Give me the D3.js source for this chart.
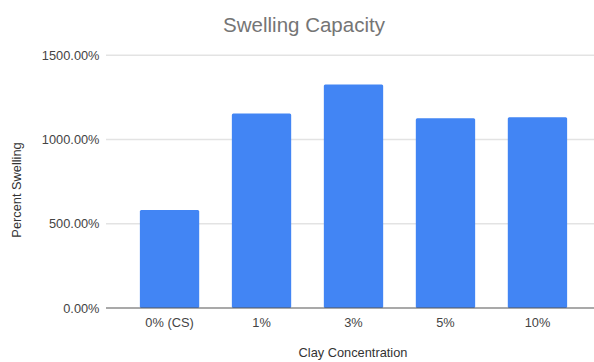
<!DOCTYPE html>
<html><head><meta charset="utf-8">
<script src="https://cdn.jsdelivr.net/npm/d3@7"></script>
<style>body{margin:0;background:#fff;}svg{display:block;font-family:Arial,"Liberation Sans",sans-serif;}</style>
</head><body>
<script>
const categories = ["0% (CS)", "1%", "3%", "5%", "10%"];
const values = [581, 1155, 1327, 1126, 1132];
const yTicks = [0, 500, 1000, 1500];
const title = "Swelling Capacity";
const xTitle = "Clay Concentration";
const yTitle = "Percent Swelling";

const W = 594, H = 362;
const svg = d3.select("body").append("svg").attr("width", W).attr("height", H);

const x = d3.scaleBand().domain(categories).range([123.5, 583.5]).paddingInner(0.355).paddingOuter(0.178);
const y = d3.scaleLinear().domain([0, 1500]).range([308, 55.25]);

// gridlines
svg.append("g").selectAll("line").data(yTicks.filter(d => d > 0)).join("line")
  .attr("x1", 106).attr("x2", 594)
  .attr("y1", d => y(d)).attr("y2", d => y(d))
  .attr("stroke", "#e3e3e3").attr("stroke-width", 1.3);

// y axis labels
const yAxis = d3.axisLeft(y).tickValues(yTicks).tickSize(0).tickPadding(0)
  .tickFormat(d => d3.format(".2f")(d) + "%");
const gy = svg.append("g").attr("transform", "translate(99.5,0)").call(yAxis);
gy.select(".domain").remove();
gy.selectAll("text").attr("font-size", 12.8).attr("fill", "#444").attr("font-family", "Arial, 'Liberation Sans', sans-serif");

// bars
svg.append("g").selectAll("rect").data(values).join("rect")
  .attr("x", (d, i) => x(categories[i]))
  .attr("width", x.bandwidth())
  .attr("y", d => y(d))
  .attr("height", d => y(0) - y(d))
  .attr("rx", 1.5)
  .attr("fill", "#4285f4");

// baseline
svg.append("line").attr("x1", 106).attr("x2", 594).attr("y1", y(0)).attr("y2", y(0))
  .attr("stroke", "#555").attr("stroke-width", 1.2);

// x axis labels
const xAxis = d3.axisBottom(x).tickSize(0).tickPadding(10);
const gx = svg.append("g").attr("transform", `translate(0,${y(0)})`).call(xAxis);
gx.select(".domain").remove();
gx.selectAll("text").attr("font-size", 12.8).attr("fill", "#444").attr("font-family", "Arial, 'Liberation Sans', sans-serif");

// titles
svg.append("text").attr("x", 304).attr("y", 32).attr("text-anchor", "middle")
  .attr("font-size", 20.5).attr("fill", "#757575").text(title);
svg.append("text").attr("x", 353).attr("y", 357).attr("text-anchor", "middle")
  .attr("font-size", 12.8).attr("fill", "#333").text(xTitle);
svg.append("text").attr("transform", "translate(21,190) rotate(-90)").attr("text-anchor", "middle")
  .attr("font-size", 12.8).attr("fill", "#333").text(yTitle);
</script>
</body></html>
